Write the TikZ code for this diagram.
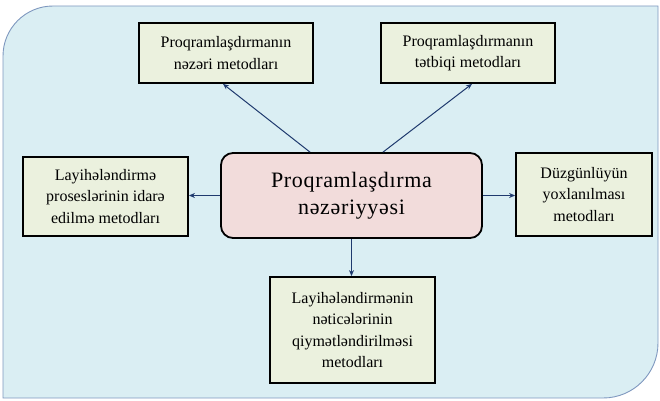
\documentclass[tikz,border=0pt]{standalone}
\usepackage{fontspec}
\setmainfont{Liberation Serif}
\usepackage{tikz}
\usetikzlibrary{arrows.meta}

\definecolor{panelblue}{HTML}{DAEEF3}
\definecolor{panelline}{HTML}{7F98BF}
\definecolor{boxgreen}{HTML}{EBF1DE}
\definecolor{boxpink}{HTML}{F2DCDB}
\definecolor{arrowblue}{HTML}{1F3A6E}

\begin{document}
\begin{tikzpicture}[x=1pt, y=1pt,
    method/.style={draw=black, line width=1.8pt, fill=boxgreen, align=center,
        inner sep=0pt, font=\fontsize{16}{21.5}\selectfont},
    link/.style={draw=arrowblue, line width=1pt, -{Stealth[length=6pt, width=5pt]}}]
    \useasboundingbox (0,0) rectangle (660,400);

    % Background panel
    \draw[panelline, fill=panelblue, line width=0.9pt] (3,2) -- (3,344)
        arc[start angle=180, end angle=90, radius=50] -- (658,394) -- (658,57)
        arc[start angle=0, end angle=-90, radius=55] -- cycle;

    % Central topic
    \node[draw=black, line width=1.8pt, fill=boxpink, rounded corners=12pt,
        minimum width=261pt, minimum height=85pt, align=center,
        font=\fontsize{22}{27}\selectfont\addfontfeature{LetterSpace=3}] (theory) at (351.5,204.5)
        {Proqramlaşdırma\\nəzəriyyəsi};

    % Method boxes
    \node[method, minimum width=174pt, minimum height=60pt] (nazari) at (226,347)
        {Proqramlaşdırmanın\\nəzəri metodları};
    \node[method, minimum width=174pt, minimum height=60pt] (tatbiqi) at (468,347)
        {Proqramlaşdırmanın\\tətbiqi metodları};
    \node[method, minimum width=165pt, minimum height=79pt] (idare) at (105.5,203.5)
        {Layihələndirmə\\proseslərinin idarə\\edilmə metodları};
    \node[method, minimum width=136pt, minimum height=83pt] (yoxlama) at (584,205.5)
        {Düzgünlüyün\\yoxlanılması\\metodları};
    \node[method, minimum width=165pt, minimum height=106pt] (netice) at (352.5,70)
        {Layihələndirmənin\\nəticələrinin\\qiymətləndirilməsi\\metodları};

    % Arrows
    \draw[link] ([xshift=-41.5pt]theory.north) -- ([xshift=-3pt]nazari.south);
    \draw[link] ([xshift=31.5pt]theory.north) -- ([xshift=4pt]tatbiqi.south);
    \draw[link] (theory.west) -- (theory.west -| idare.east);
    \draw[link] (theory.east) -- (theory.east -| yoxlama.west);
    \draw[link] (theory.south) -- (theory.south |- netice.north);
\end{tikzpicture}
\end{document}
